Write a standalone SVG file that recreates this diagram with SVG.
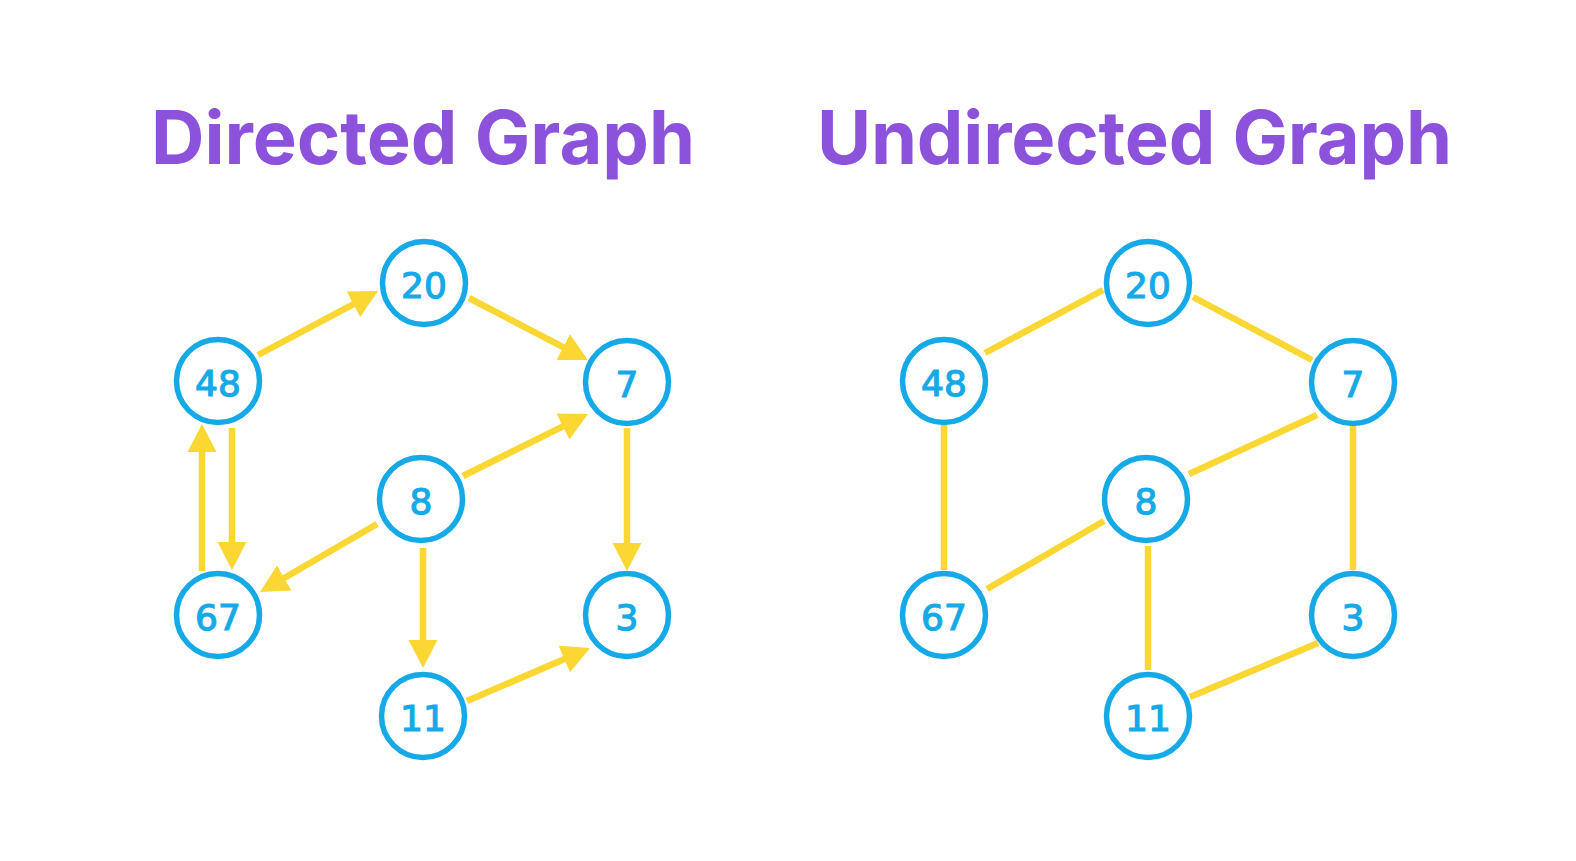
<svg xmlns="http://www.w3.org/2000/svg" width="1576" height="861" viewBox="0 0 1576 861">
  <style>
    .title { font-family: Inter, "Open Sans", "Liberation Sans", sans-serif; font-weight: 700; font-size: 74px; fill: #8c52dc; }
    .node circle { fill: #ffffff; stroke: #16a9e8; stroke-width: 5.5; }
    .node text { font-family: "DejaVu Sans", "Liberation Sans", sans-serif; font-size: 36px; fill: #16a9e8; stroke: #16a9e8; stroke-width: 1.2; text-anchor: middle; dominant-baseline: central; }
    .edge { stroke: #fbd734; stroke-width: 6.5; fill: none; }
  </style>
  <defs>
    <marker id="arrow" markerUnits="userSpaceOnUse" markerWidth="30" markerHeight="30" refX="13" refY="14.5" orient="auto">
      <path d="M0,0 L28,14.5 L0,29 Z" fill="#fbd734"/>
    </marker>
  </defs>
  <rect width="1576" height="861" fill="#ffffff"/>

  <text class="title" x="151" y="164" textLength="544" lengthAdjust="spacing">Directed Graph</text>
  <text class="title" x="817" y="164" textLength="635" lengthAdjust="spacing">Undirected Graph</text>

  <!-- directed graph connectors: each line ends 15px short of the arrow tip -->
  <g id="directed-edges">
    <line class="edge" marker-end="url(#arrow)" x1="258" y1="355" x2="364.8" y2="298.1"/>
    <line class="edge" marker-end="url(#arrow)" x1="469" y1="298" x2="574.7" y2="353.1"/>
    <line class="edge" marker-end="url(#arrow)" x1="463" y1="476" x2="574.6" y2="420.7"/>
    <line class="edge" marker-end="url(#arrow)" x1="627" y1="428" x2="627" y2="556"/>
    <line class="edge" marker-end="url(#arrow)" x1="232" y1="428" x2="232" y2="555"/>
    <line class="edge" marker-end="url(#arrow)" x1="202" y1="571" x2="202" y2="439"/>
    <line class="edge" marker-end="url(#arrow)" x1="377" y1="524" x2="273" y2="584.5"/>
    <line class="edge" marker-end="url(#arrow)" x1="423" y1="548" x2="423" y2="653"/>
    <line class="edge" marker-end="url(#arrow)" x1="467" y1="701" x2="576.2" y2="654"/>
  </g>

  <!-- undirected graph connectors -->
  <g id="undirected-edges">
    <line class="edge" x1="985" y1="353" x2="1103" y2="290"/>
    <line class="edge" x1="1193" y1="297" x2="1312" y2="360"/>
    <line class="edge" x1="944" y1="425" x2="944" y2="570"/>
    <line class="edge" x1="1317" y1="415" x2="1189" y2="474"/>
    <line class="edge" x1="1353" y1="426" x2="1353" y2="570"/>
    <line class="edge" x1="1104" y1="521" x2="987" y2="589"/>
    <line class="edge" x1="1148" y1="546" x2="1148" y2="670"/>
    <line class="edge" x1="1318" y1="643" x2="1190" y2="697"/>
  </g>

  <!-- directed graph nodes -->
  <g id="d-20" class="node"><circle cx="424" cy="283" r="41.5"/><text x="424" y="285">20</text></g>
  <g id="d-48" class="node"><circle cx="218" cy="381" r="41.5"/><text x="218" y="383">48</text></g>
  <g id="d-7" class="node"><circle cx="627" cy="382" r="41.5"/><text x="627" y="384">7</text></g>
  <g id="d-8" class="node"><circle cx="421" cy="499" r="41.5"/><text x="421" y="501">8</text></g>
  <g id="d-67" class="node"><circle cx="218" cy="615" r="41.5"/><text x="218" y="617">67</text></g>
  <g id="d-3" class="node"><circle cx="627" cy="615" r="41.5"/><text x="627" y="617">3</text></g>
  <g id="d-11" class="node"><circle cx="423" cy="716" r="41.5"/><text x="423" y="718">11</text></g>

  <!-- undirected graph nodes -->
  <g id="u-20" class="node"><circle cx="1148" cy="283" r="41.5"/><text x="1148" y="285">20</text></g>
  <g id="u-48" class="node"><circle cx="944" cy="381" r="41.5"/><text x="944" y="383">48</text></g>
  <g id="u-7" class="node"><circle cx="1353" cy="382" r="41.5"/><text x="1353" y="384">7</text></g>
  <g id="u-8" class="node"><circle cx="1146" cy="499" r="41.5"/><text x="1146" y="501">8</text></g>
  <g id="u-67" class="node"><circle cx="944" cy="615" r="41.5"/><text x="944" y="617">67</text></g>
  <g id="u-3" class="node"><circle cx="1353" cy="615" r="41.5"/><text x="1353" y="617">3</text></g>
  <g id="u-11" class="node"><circle cx="1148" cy="716" r="41.5"/><text x="1148" y="718">11</text></g>
</svg>
